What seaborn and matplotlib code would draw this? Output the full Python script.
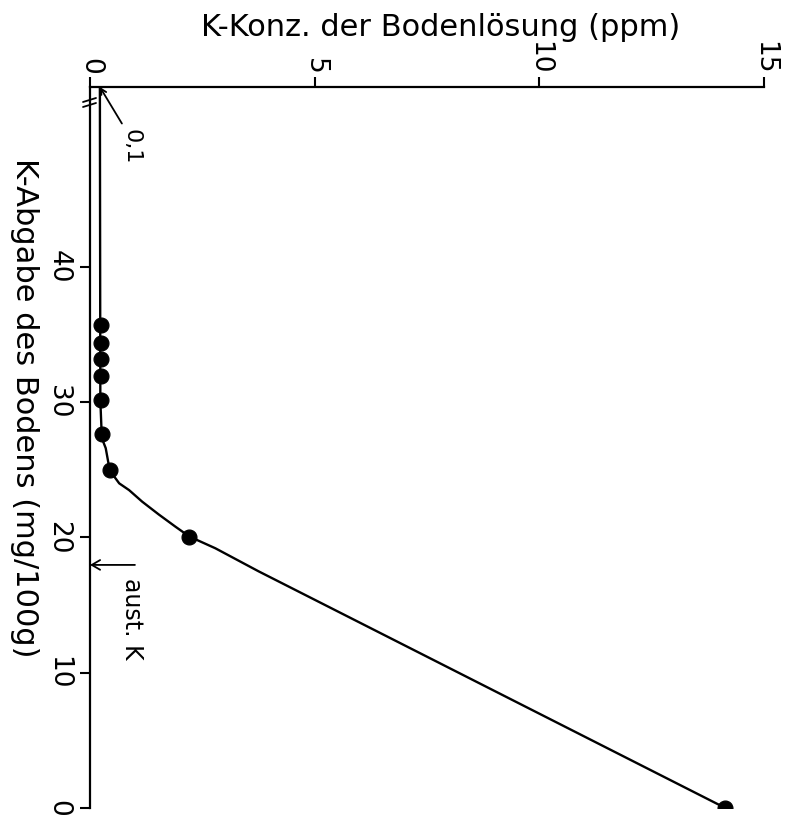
import pandas as pd
import matplotlib.pyplot as plt
import seaborn as sns

# measured points (K-Konz. in ppm, K-Abgabe in mg/100g)
punkte_ppm = [14.14, 2.21, 0.44, 0.26, 0.24, 0.24, 0.24, 0.24, 0.24]
punkte_abgabe = [0, 20.07, 24.95, 27.64, 30.13, 31.95, 33.19, 34.37, 35.67]

# hand drawn curve
kurve_ppm = [14.14, 3.75, 2.79, 2.21, 1.90, 1.53, 1.16, 0.87, 0.65, 0.44,
             0.35, 0.28, 0.26, 0.23, 0.22]
kurve_abgabe = [0, 17.5, 19.2, 20.07, 20.8, 21.7, 22.65, 23.5, 24.0, 24.95,
                26.6, 27.2, 27.64, 30.13, 53.3]

x_ticks = [0, 5, 10, 15]
y_ticks = [0, 10, 20, 30, 40]

punkte = pd.DataFrame({"ppm": punkte_ppm, "abgabe": punkte_abgabe})
kurve = pd.DataFrame({"ppm": kurve_ppm, "abgabe": kurve_abgabe})

sns.set_style("ticks")
plt.rcParams['font.family'] = ['DejaVu Sans']
plt.rcParams['text.color'] = 'black'
plt.rcParams['xtick.color'] = 'black'
plt.rcParams['ytick.color'] = 'black'
plt.rcParams['axes.edgecolor'] = 'black'

W, H = 789, 821
fig = plt.figure(figsize=(W / 100, H / 100), dpi=100)
ax = fig.add_axes([90 / W, 1 - 808 / H, 674 / W, 721 / H])

sns.lineplot(data=kurve, x="ppm", y="abgabe", sort=False, estimator=None,
             color="black", lw=1.7, ax=ax)
sns.scatterplot(data=punkte, x="ppm", y="abgabe", s=115, color="black",
                edgecolor="black", zorder=3, ax=ax)

ax.set_xlim(0, 15)
ax.set_ylim(0, 53.3)
ax.xaxis.tick_top()
ax.spines[["right", "bottom"]].set_visible(False)
for s in ["left", "top"]:
    ax.spines[s].set_linewidth(1.6)
ax.set_xlabel("")
ax.set_ylabel("")
ax.set_xticks(x_ticks)
ax.set_yticks(y_ticks)
ax.tick_params(direction="out", length=7, width=1.5, labelsize=19)
ax.tick_params(axis="x", pad=2)
ax.tick_params(axis="y", pad=6.5)
for lab in ax.get_xticklabels():
    lab.set_rotation(-90)
    lab.set_ha("center")
    lab.set_va("bottom")
for lab in ax.get_yticklabels():
    lab.set_rotation(-90)
    lab.set_ha("right")
    lab.set_va("center")

# titles
fig.text(441 / W, 1 - 28 / H, "K-Konz. der Bodenlösung (ppm)",
         ha="center", va="center", fontsize=22)
fig.text(24 / W, 1 - 408 / H, "K-Abgabe des Bodens (mg/100g)",
         rotation=-90, ha="center", va="center", fontsize=22)

# axis break on the y axis
for dy in (0, 5):
    fig.add_artist(plt.Line2D([83 / W, 96 / W],
                              [1 - (102 + dy) / H, 1 - (98 + dy) / H],
                              transform=fig.transFigure, color="black", lw=1.3))

# annotations
ax.annotate("", xy=(0.22, 53.3), xytext=(0.71, 50.6),
            arrowprops=dict(arrowstyle="->", color="black", lw=1.3,
                            shrinkA=0, shrinkB=0))
ax.text(0.93, 48.9, "0,1", rotation=-90, ha="center", va="center", fontsize=16)

ax.annotate("", xy=(0.0, 17.97), xytext=(1.0, 17.97),
            arrowprops=dict(arrowstyle="->,head_length=0.6,head_width=0.35",
                            color="black", lw=1.3, shrinkA=0, shrinkB=0))
ax.text(0.93, 14.0, "aust. K", rotation=-90, ha="center", va="center", fontsize=17)

fig.savefig("out.png", dpi=100)
